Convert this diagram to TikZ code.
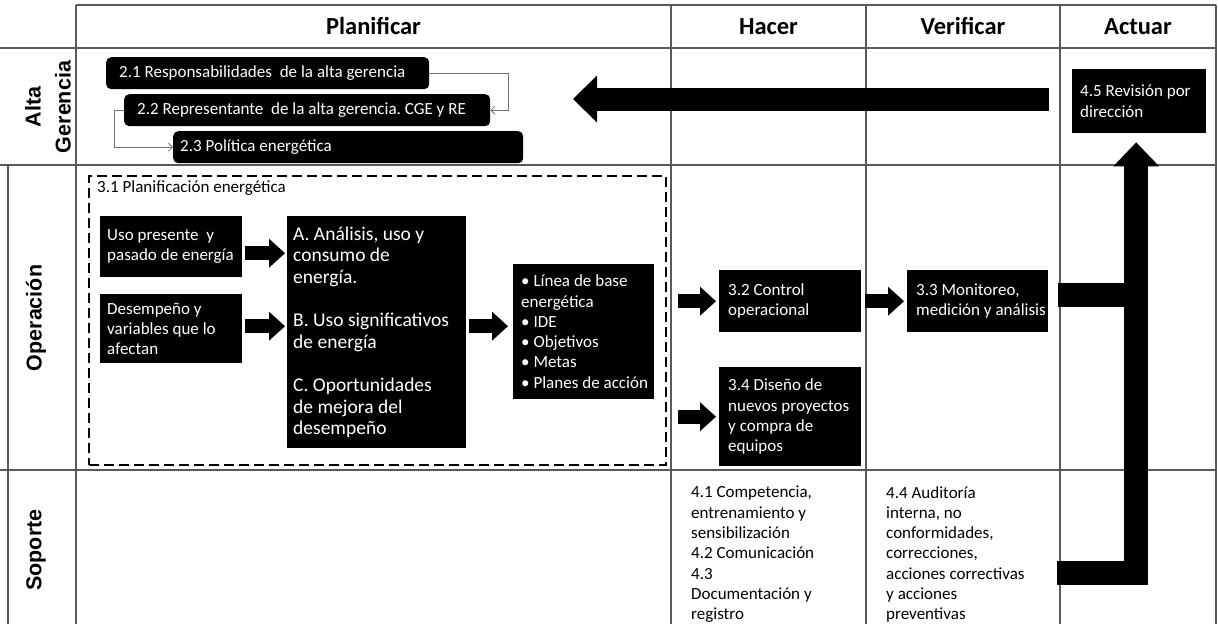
\documentclass[tikz,border=0pt]{standalone}
\usepackage{fontspec}
\setmainfont{Carlito}
\newfontfamily\arialfont{Liberation Sans}
\usetikzlibrary{arrows.meta}

\newcommand{\cuerpo}{\fontsize{17}{20.3}\selectfont}
\newcommand{\grande}{\fontsize{19.5}{21.5}\selectfont}
\newcommand{\titulo}{\fontsize{24.5}{29}\selectfont\bfseries}
\newcommand{\fila}{\arialfont\fontsize{21.5}{30}\selectfont\bfseries}

\tikzset{
  rejilla/.style={draw=black!65, line width=1.2pt},
  texto/.style={align=left, font=\cuerpo, execute at begin node={\frenchspacing\spaceskip=0.23em plus 0.05em\relax}},
  caja/.style={texto, fill=black, text=white, anchor=north west, inner ysep=0pt},
  flecha/.style={line width=14pt, -{Triangle[width=29pt,length=16pt,line width=0pt]}},
  barra/.style={line width=24pt},
  enlace/.style={draw=black!55, line width=0.8pt, -{Straight Barb[length=4pt,width=8pt]}},
}

\begin{document}
\begin{tikzpicture}[x=1pt,y=-1pt]
\useasboundingbox (0,0) rectangle (1218,624);

% Table
\draw[rejilla] (76,5) -- (1216,5);
\draw[rejilla] (0,48) -- (1216,48);
\draw[rejilla] (0,165) -- (1216,165);
\draw[rejilla] (0,470) -- (1216,470);
\draw[rejilla] (8,165) -- (8,624);
\foreach \x in {76,671,866,1060,1216}
  \draw[rejilla] (\x,5) -- (\x,624);

% Column and row titles
\node[font=\titulo, anchor=base] (hplan) at (373.5,34) {Planificar};
\node[font=\titulo, anchor=base] (hhacer) at (768.5,34) {Hacer};
\node[font=\titulo, anchor=base] (hverif) at (963,34) {Verificar};
\node[font=\titulo, anchor=base] (hact) at (1138,34) {Actuar};
\node[font=\fila, rotate=90, align=center] (lalta) at (48,107) {Alta\\Gerencia};
\node[font=\fila, rotate=90] (lope) at (36,318) {Operación};
\node[font=\fila, rotate=90] (lsop) at (36,550) {Soporte};

% Alta gerencia
\node[caja, rounded corners=5pt, minimum height=32pt, inner xsep=13pt, text width=297pt] (r21) at (106,57) {2.1 Responsabilidades\ \ de la alta gerencia};
\node[caja, rounded corners=5pt, minimum height=32pt, inner xsep=13pt, text width=340pt] (r22) at (124,94) {2.2 Representante\ \ de la alta gerencia. CGE y RE};
\node[caja, rounded corners=5pt, minimum height=32pt, inner xsep=7pt, text width=336pt] (r23) at (173,131) {2.3 Política energética};
\node[caja, minimum height=64pt, inner xsep=8pt, text width=118pt] (r45) at (1072,69) {4.5 Revisión por\\dirección};
\draw[enlace] (r21.east) -| ([xshift=18pt]r22.east) -- (r22.east);
\draw[enlace] (r22.west) -- ++(-10pt,0) |- (r23.west);

% Operacion
\node[draw, dash pattern=on 10pt off 5pt, line width=2pt, anchor=north west, minimum width=577pt, minimum height=289pt, inner sep=0pt] (plan) at (88,175) {};
\node[texto, anchor=west, inner sep=0pt] (t31) at ([xshift=9pt,yshift=-13pt]plan.north west) {3.1 Planificación energética};
\node[caja, minimum height=61pt, inner xsep=7pt, text width=128pt] (uso) at (100,216) {Uso presente\ \ y\\pasado de energía};
\node[caja, minimum height=69pt, inner xsep=7pt, text width=128pt] (desem) at (100,294) {Desempeño y\\variables que lo\\afectan};
\node[caja, font=\grande, minimum height=232pt, inner xsep=6pt, text width=167pt] (anal) at (287,216) {A. Análisis, uso y\\consumo de\\energía.\\[22pt]B. Uso significativos\\de energía\\[22pt]C. Oportunidades\\de mejora del\\desempeño};
\node[caja, minimum height=135pt, inner xsep=8pt, text width=125pt] (linea) at (513,264) {\textbullet\ Línea de base\\energética\\\textbullet\ IDE\\\textbullet\ Objetivos\\\textbullet\ Metas\\\mbox{\textbullet\ Planes de acción}};
\node[caja, minimum height=62pt, inner xsep=9pt, text width=124pt] (c32) at (719,270) {3.2 Control\\operacional};
\node[caja, minimum height=62pt, inner xsep=9pt, text width=123pt] (c33) at (907,270) {3.3 Monitoreo,\\\mbox{medición y análisis}};
\node[caja, minimum height=99pt, inner xsep=9pt, text width=124pt] (c34) at (719,367) {3.4 Diseño de\\nuevos proyectos\\y compra de\\equipos};

\draw[flecha, shorten <=3pt, shorten >=2pt] ([yshift=-6.5pt]uso.east) -- ([yshift=-6.5pt]uso.east -| anal.west);
\draw[flecha, shorten <=3pt, shorten >=2pt] ([yshift=2.5pt]desem.east) -- ([yshift=2.5pt]desem.east -| anal.west);
\draw[flecha, shorten <=3pt, shorten >=5pt] ([yshift=6pt]anal.east) -- ([yshift=6pt]anal.east -| linea.west);
\draw[flecha, shorten <=11pt, shorten >=3pt] (plan.east |- c32.west) -- (c32.west);
\draw[flecha, shorten <=11pt, shorten >=3pt] (plan.east |- c34.west) -- (c34.west);
\draw[flecha, shorten <=4pt, shorten >=3pt] (c32.east) -- (c33.west);

% Soporte
\node[texto, anchor=north west, inner sep=0pt] (s41) at (691,486) {4.1 Competencia,\\entrenamiento y\\sensibilización\\4.2 Comunicación\\4.3\\Documentación y\\registro};
\node[texto, anchor=north west, inner sep=0pt] (s44) at (886,486) {4.4 Auditoría\\interna, no\\conformidades,\\correcciones,\\acciones correctivas\\y acciones\\preventivas};

% Big arrows back to the top
\coordinate (punta) at (573,99);
\coordinate (eje) at ([xshift=-3pt]r45.south);
\coordinate (sop) at (1057,573);
\coordinate (m33) at ([yshift=6pt]c33.east);
\draw[line width=23pt, -{Triangle[width=47pt,length=24pt,line width=0pt]}, shorten <=23pt] (r45.west |- punta) -- (punta);
\draw[barra, -{Triangle[width=46pt,length=24pt,line width=0pt]}, shorten >=9pt] (sop) -| (eje);
\draw[barra, shorten <=10pt] (m33) -- (m33 -| eje);
\end{tikzpicture}
\end{document}
